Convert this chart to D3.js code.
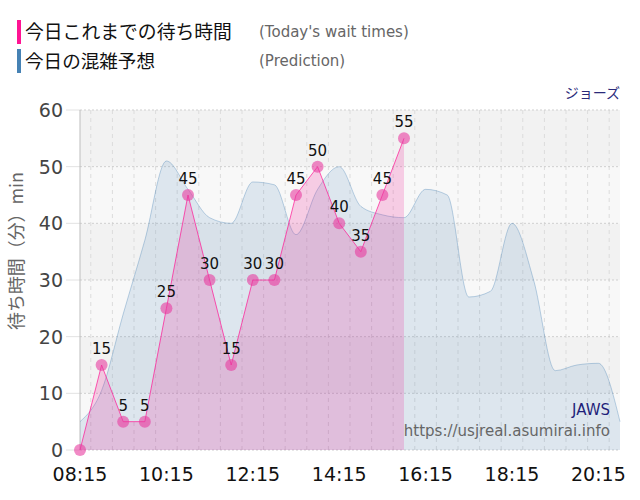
<!DOCTYPE html>
<html><head><meta charset="utf-8">
<script src="https://cdn.jsdelivr.net/npm/d3@7"></script>
<style>body{margin:0;background:#fff}svg{display:block}</style>
</head><body>
<svg id="c" width="640" height="500"></svg>
<script>
const actualTimes = ["08:15","08:45","09:15","09:45","10:15","10:45","11:15","11:45","12:15","12:45","13:15","13:45","14:15","14:45","15:15","15:45"];
const actualValues = [0,15,5,5,25,45,30,15,30,30,45,50,40,35,45,55];
const predTimes = ["08:15","08:45","09:15","09:45","10:15","10:45","11:15","11:45","12:15","12:45","13:15","13:45","14:15","14:45","15:15","15:45","16:15","16:45","17:15","17:45","18:15","18:45","19:15","19:45","20:15","20:45"];
const predValues = [5,10.5,24,37,51,46,41,40,47.3,46.8,38,46,50,43,41.5,41,46,45,27,28,40,30,14,15,15.3,5];
const xTickLabels = ["08:15","10:15","12:15","14:15","16:15","18:15","20:15"];
const yTicks = [0,10,20,30,40,50,60];
const legendLabels = ["今日これまでの待ち時間","今日の混雑予想"];
const legendSub = ["(Today's wait times)","(Prediction)"];

const parse = d3.timeParse("%H:%M");
const svg = d3.select("#c");
const L=80,R=620,T=110,B=450;
const x = d3.scaleTime().domain([parse("08:15"),parse("20:45")]).range([L,R]);
const y = d3.scaleLinear().domain([0,60]).range([B,T]);
const latin = "'DejaVu Sans', Verdana, sans-serif";
const cjk = "'Noto Sans CJK JP', sans-serif";

function fitWidth(sel, target){
  const w = sel.node().getComputedTextLength();
  const fs = parseFloat(sel.attr("font-size"));
  if(w>0) sel.attr("font-size", (fs*target/w).toFixed(2));
}

// bands
const g = svg.append("g");
for(let i=0;i<6;i++){
  g.append("rect").attr("x",L).attr("y",y(60-i*10)).attr("width",R-L).attr("height",y(0)-y(10))
   .attr("fill", i%2===0 ? "#f2f2f2" : "#f8f8f8");
}
// vertical grid every 30 min
const halfHours = d3.timeMinute.every(30).range(parse("08:15"), parse("20:46"));
const majorSet = new Set(xTickLabels);
const fmt = d3.timeFormat("%H:%M");
halfHours.forEach(t=>{
  const major = majorSet.has(fmt(t));
  g.append("line").attr("x1",x(t)).attr("x2",x(t)).attr("y1",T).attr("y2",major?B+12:B)
   .attr("stroke", major? "#d0d0d0":"#dcdcdc").attr("stroke-width",1)
   .attr("stroke-dasharray", major? "2,2":"4,4");
});
// horizontal grid
yTicks.forEach(v=>{
  g.append("line").attr("x1",L).attr("x2",R).attr("y1",y(v)).attr("y2",y(v))
   .attr("stroke","#cfcfcf").attr("stroke-dasharray","2,2");
  g.append("line").attr("x1",L-14).attr("x2",L).attr("y1",y(v)).attr("y2",y(v))
   .attr("stroke","#e2e2e2");
});
g.append("line").attr("x1",L).attr("x2",L).attr("y1",T).attr("y2",B).attr("stroke","#bdbdbd");

// prediction area
const pred = predTimes.map((t,i)=>({t:parse(t),v:predValues[i]}));
const area = d3.area().x(d=>x(d.t)).y0(y(0)).y1(d=>y(d.v)).curve(d3.curveMonotoneX);
const line = d3.line().x(d=>x(d.t)).y(d=>y(d.v)).curve(d3.curveMonotoneX);
svg.append("path").datum(pred).attr("d",area).attr("fill","rgba(70,130,180,0.15)");
svg.append("path").datum(pred).attr("d",line).attr("fill","none").attr("stroke","rgba(70,130,180,0.35)").attr("stroke-width",1);

// actual area
const act = actualTimes.map((t,i)=>({t:parse(t),v:actualValues[i]}));
const areaA = d3.area().x(d=>x(d.t)).y0(y(0)).y1(d=>y(d.v));
const lineA = d3.line().x(d=>x(d.t)).y(d=>y(d.v));
svg.append("path").datum(act).attr("d",areaA).attr("fill","rgba(240,30,150,0.2)");
svg.append("path").datum(act).attr("d",lineA).attr("fill","none").attr("stroke","rgba(255,20,147,0.7)").attr("stroke-width",1);
svg.selectAll(".pt").data(act).enter().append("circle")
  .attr("cx",d=>x(d.t)).attr("cy",d=>y(d.v)).attr("r",6).attr("fill","rgba(232,60,160,0.6)");
svg.selectAll(".lbl").data(act.filter(d=>d.v>0)).enter().append("text")
  .attr("x",d=>x(d.t)).attr("y",d=>y(d.v)-11).attr("text-anchor","middle")
  .attr("font-family",latin).attr("font-size",15).attr("fill","#111").text(d=>d.v);

// y axis labels
yTicks.forEach(v=>{
  svg.append("text").attr("x",63).attr("y",y(v)+7).attr("text-anchor","end")
   .attr("font-family",latin).attr("font-size",19).attr("fill","#444").text(v);
});
// x axis labels
xTickLabels.forEach(s=>{
  svg.append("text").attr("x",x(parse(s))).attr("y",481).attr("text-anchor","middle")
   .attr("font-family",latin).attr("font-size",19).attr("fill","#111").text(s);
});
// y title
const yt = svg.append("text").attr("transform","translate(23,251) rotate(-90)").attr("text-anchor","middle")
  .attr("font-family",cjk).attr("font-size",16).attr("fill","#666")
  .text("待ち時間（分）min");
fitWidth(yt, 158);

// legend
const legColors = ["#ff1493","#4682b4"];
const legW = [207, 130];
[0,1].forEach(i=>{
  const yy = 20 + i*29;
  svg.append("rect").attr("x",17).attr("y",yy).attr("width",4).attr("height",24).attr("fill",legColors[i]);
  const t = svg.append("text").attr("x",25).attr("y",yy+19).attr("font-family",cjk).attr("font-size",18).attr("fill","#111").text(legendLabels[i]);
  fitWidth(t, legW[i]);
  svg.append("text").attr("x",259).attr("y",yy+17).attr("font-family",latin).attr("font-size",15).attr("fill","#666").text(legendSub[i]);
});
svg.append("text").attr("x",620).attr("y",98).attr("text-anchor","end").attr("font-family",cjk)
  .attr("font-size",14).attr("fill","#2a2a7a").text("ジョーズ");
svg.append("text").attr("x",610).attr("y",415).attr("text-anchor","end").attr("font-family",latin)
  .attr("font-size",15).attr("fill","#1f1f7a").text("JAWS");
svg.append("text").attr("x",610).attr("y",436).attr("text-anchor","end").attr("font-family",latin)
  .attr("font-size",15).attr("fill","#666").text("https://usjreal.asumirai.info");
</script>
</body></html>
